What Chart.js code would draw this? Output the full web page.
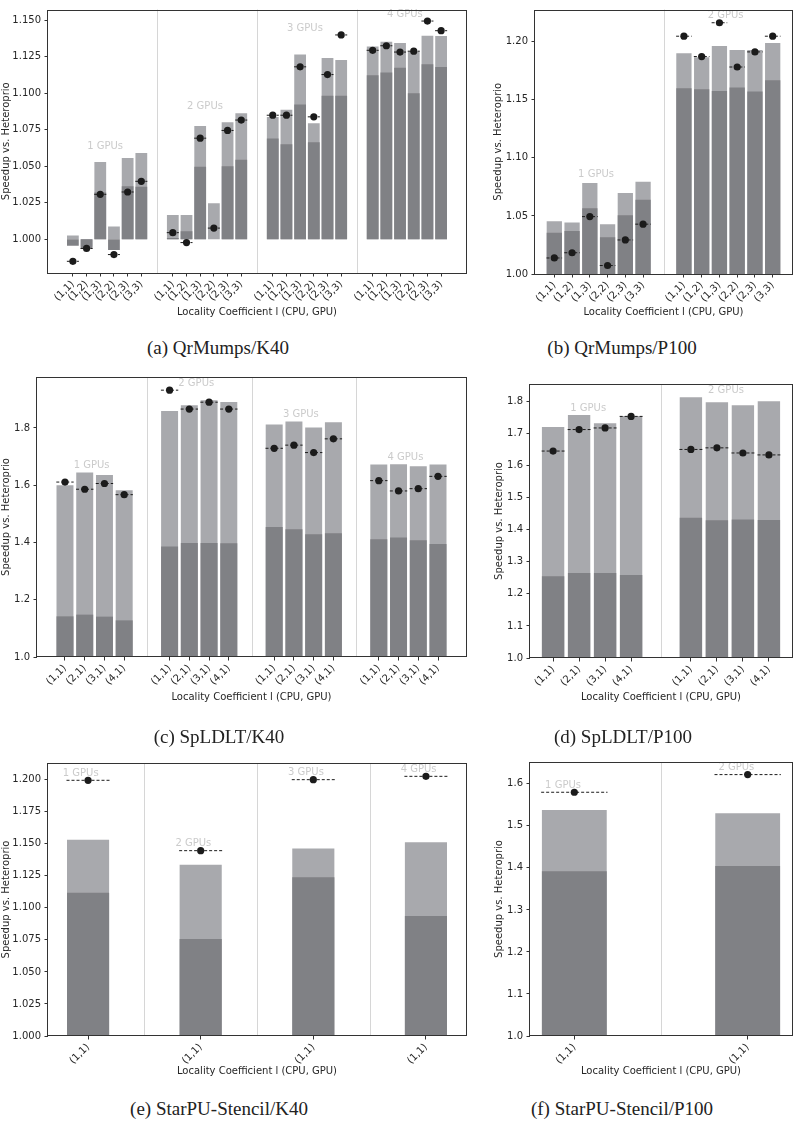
<!DOCTYPE html>
<html>
<head>
<meta charset="utf-8">
<title>Speedup vs. Heteroprio</title>
<script src="https://cdn.jsdelivr.net/npm/chart.js@4.4.1/dist/chart.umd.min.js"></script>
<style>
  html, body { margin: 0; padding: 0; background: #fff; }
  #page { position: relative; width: 796px; height: 1124px; overflow: hidden; background: #fff; }
  #page canvas { position: absolute; }
  .cap { position: absolute; width: 300px; text-align: center; font-family: 'Liberation Serif', serif; font-size: 19px; line-height: 22px; color: #222; }
</style>
</head>
<body>
<div id="page">
  <canvas id="chartA"></canvas>
  <canvas id="chartB"></canvas>
  <canvas id="chartC"></canvas>
  <canvas id="chartD"></canvas>
  <canvas id="chartE"></canvas>
  <canvas id="chartF"></canvas>
  <div class="cap" style="left:68px;top:337px;">(a) QrMumps/K40</div>
  <div class="cap" style="left:472px;top:337px;">(b) QrMumps/P100</div>
  <div class="cap" style="left:69px;top:726px;">(c) SpLDLT/K40</div>
  <div class="cap" style="left:473px;top:726px;">(d) SpLDLT/P100</div>
  <div class="cap" style="left:69px;top:1098px;">(e) StarPU-Stencil/K40</div>
  <div class="cap" style="left:472px;top:1098px;">(f) StarPU-Stencil/P100</div>
</div>
<script>
/* ================================================================
   DATA (light bar, dark bar, marker value)
================================================================ */
const qrTicks = ['(1,1)', '(1,2)', '(1,3)', '(2,2)', '(2,3)', '(3,3)'];
const ldltTicks = ['(1,1)', '(2,1)', '(3,1)', '(4,1)'];
const stencilTicks = ['(1,1)'];

// (a) QrMumps / K40
const qrK40Gpus = ['1 GPUs', '2 GPUs', '3 GPUs', '4 GPUs'];
const qrK40Light = [1.0027, 0.9950, 1.0529, 1.0088, 1.0556, 1.0591,
                    1.0167, 1.0167, 1.0776, 1.0247, 1.0801, 1.0862,
                    1.0836, 1.0887, 1.1264, 1.0794, 1.1240, 1.1226,
                    1.1319, 1.1352, 1.1343, 1.1284, 1.1392, 1.1390];
const qrK40Dark  = [0.9956, 0.9934, 1.0320, 0.9927, 1.0364, 1.0359,
                    1.0010, 1.0055, 1.0496, 1.0000, 1.0500, 1.0545,
                    1.0690, 1.0650, 1.0922, 1.0664, 1.0982, 1.0982,
                    1.1122, 1.1142, 1.1173, 1.0999, 1.1198, 1.1178];
const qrK40Dot   = [0.9850, 0.9938, 1.0308, 0.9896, 1.0324, 1.0397,
                    1.0046, 0.9978, 1.0692, 1.0077, 1.0745, 1.0816,
                    1.0849, 1.0849, 1.1180, 1.0838, 1.1127, 1.1398,
                    1.1293, 1.1324, 1.1281, 1.1287, 1.1493, 1.1427];
const qrK40YTicks = [1.000, 1.025, 1.050, 1.075, 1.100, 1.125, 1.150];

// (b) QrMumps / P100
const qrP100Gpus = ['1 GPUs', '2 GPUs'];
const qrP100Light = [1.0454, 1.0443, 1.0784, 1.0429, 1.0697, 1.0795,
                     1.1900, 1.1867, 1.1963, 1.1929, 1.1929, 1.1988];
const qrP100Dark  = [1.0355, 1.0370, 1.0567, 1.0316, 1.0505, 1.0640,
                     1.1599, 1.1590, 1.1576, 1.1605, 1.1571, 1.1667];
const qrP100Dot   = [1.0138, 1.0183, 1.0494, 1.0073, 1.0293, 1.0429,
                     1.2047, 1.1872, 1.2163, 1.1782, 1.1912, 1.2047];
const qrP100YTicks = [1.00, 1.05, 1.10, 1.15, 1.20];

// (c) SpLDLT / K40
const ldltK40Gpus = ['1 GPUs', '2 GPUs', '3 GPUs', '4 GPUs'];
const ldltK40Light = [1.600, 1.644, 1.636, 1.582, 1.859, 1.879, 1.897, 1.891,
                      1.812, 1.823, 1.802, 1.820, 1.672, 1.673, 1.666, 1.672];
const ldltK40Dark  = [1.142, 1.148, 1.141, 1.128, 1.386, 1.398, 1.398, 1.397,
                      1.454, 1.446, 1.429, 1.432, 1.411, 1.417, 1.408, 1.395];
const ldltK40Dot   = [1.611, 1.586, 1.606, 1.567, 1.932, 1.866, 1.890, 1.866,
                      1.729, 1.740, 1.714, 1.762, 1.616, 1.580, 1.588, 1.631];
const ldltK40YTicks = [1.0, 1.2, 1.4, 1.6, 1.8];

// (d) SpLDLT / P100
const ldltP100Gpus = ['1 GPUs', '2 GPUs'];
const ldltP100Light = [1.720, 1.757, 1.732, 1.754, 1.813, 1.797, 1.788, 1.800];
const ldltP100Dark  = [1.255, 1.265, 1.265, 1.259, 1.437, 1.429, 1.432, 1.430];
const ldltP100Dot   = [1.645, 1.712, 1.717, 1.753, 1.650, 1.655, 1.639, 1.633];
const ldltP100YTicks = [1.0, 1.1, 1.2, 1.3, 1.4, 1.5, 1.6, 1.7, 1.8];

// (e) StarPU-Stencil / K40
const stK40Gpus = ['1 GPUs', '2 GPUs', '3 GPUs', '4 GPUs'];
const stK40Light = [1.1532, 1.1337, 1.1462, 1.1511];
const stK40Dark  = [1.1118, 1.0757, 1.1238, 1.0936];
const stK40Dot   = [1.1995, 1.1446, 1.2000, 1.2026];
const stK40YTicks = [1.000, 1.025, 1.050, 1.075, 1.100, 1.125, 1.150, 1.175, 1.200];

// (f) StarPU-Stencil / P100
const stP100Gpus = ['1 GPUs', '2 GPUs'];
const stP100Light = [1.538, 1.530];
const stP100Dark  = [1.392, 1.4045];
const stP100Dot   = [1.580, 1.622];
const stP100YTicks = [1.0, 1.1, 1.2, 1.3, 1.4, 1.5, 1.6];

/* ================================================================
   STYLE
================================================================ */
const DARK = '#808185';
const LIGHT = '#a8a9ad';
const INK = '#1b1b1b';
const GROUP_GAP = 1.3;     // empty slots between GPU groups
const BAR_W = 0.86;        // bar width in slot units
const DASH_HALF = 0.44;
const LABEL_SHIFT = 0.15;

Chart.defaults.font.family = "'DejaVu Sans', sans-serif";
Chart.defaults.font.size = 10;
Chart.defaults.color = '#262626';

/* separators, GPU labels and the axes frame */
function makeDecor(seps, labels) {
  return {
    id: 'decor',
    beforeDatasetsDraw(chart) {
      const { ctx, chartArea: a, scales: { x } } = chart;
      ctx.save();
      ctx.strokeStyle = '#d6d6d6';
      ctx.lineWidth = 1;
      seps.forEach(v => {
        const px = Math.round(x.getPixelForValue(v)) + 0.5;
        ctx.beginPath();
        ctx.moveTo(px, a.top);
        ctx.lineTo(px, a.bottom);
        ctx.stroke();
      });
      ctx.restore();
    },
    afterDatasetsDraw(chart) {
      const { ctx, scales: { x, y } } = chart;
      ctx.save();
      ctx.fillStyle = '#cbcbcb';
      ctx.font = "10px 'DejaVu Sans', sans-serif";
      ctx.textAlign = 'center';
      ctx.textBaseline = 'middle';
      labels.forEach(l => ctx.fillText(l.text, x.getPixelForValue(l.x), y.getPixelForValue(l.y) - 7));
      ctx.restore();
    },
    afterDraw(chart) {
      const { ctx, chartArea: a } = chart;
      ctx.save();
      ctx.strokeStyle = '#333';
      ctx.lineWidth = 1;
      ctx.strokeRect(Math.round(a.left) - 0.5, Math.round(a.top) + 0.5,
                     Math.round(a.right - a.left) + 1, Math.round(a.bottom - a.top) - 1);
      ctx.restore();
    }
  };
}

function makePanel(id, p) {
  const n = p.ticks.length;
  const period = n + GROUP_GAP;
  const pos = p.light.map((_, k) => Math.floor(k / n) * period + (k % n));
  const lo = -BAR_W / 2, hi = pos[pos.length - 1] + BAR_W / 2;
  const pad = 0.05 * (hi - lo);
  const spacing = n > 1 ? 1 : period;

  const seps = p.gpus.slice(1).map((_, g) => (g * period + n - 1 + (g + 1) * period) / 2);
  const labels = p.gpus.map((text, g) => {
    let top = -Infinity;
    pos.forEach((_, k) => {
      if (Math.floor(k / n) === g) top = Math.max(top, p.light[k], p.dark[k], p.dot[k]);
    });
    return { text, x: g * period + (n - 1) / 2 - LABEL_SHIFT, y: top };
  });

  const box = p.box, plot = p.plot;
  const canvas = document.getElementById(id);
  canvas.width = box.w;
  canvas.height = box.h;
  canvas.style.left = box.left + 'px';
  canvas.style.top = box.top + 'px';

  const barCommon = { type: 'bar', grouped: false, barPercentage: BAR_W / spacing, categoryPercentage: 1, borderWidth: 0 };

  new Chart(canvas, {
    type: 'bar',
    data: {
      datasets: [
        {
          type: 'line', order: 0, showLine: false,
          data: pos.map((x, k) => ({ x, y: p.dot[k] })),
          pointRadius: 3.6, pointBackgroundColor: INK, pointBorderWidth: 0
        },
        {
          type: 'line', order: 1, spanGaps: false,
          data: pos.flatMap((x, k) => [{ x: x - DASH_HALF, y: p.dot[k] }, { x: x + DASH_HALF, y: p.dot[k] }, { x, y: null }]),
          borderColor: INK, borderWidth: 1, borderDash: [3, 2], pointRadius: 0
        },
        { ...barCommon, order: 2, data: pos.map((x, k) => ({ x, y: [1, p.dark[k]] })), backgroundColor: DARK },
        { ...barCommon, order: 3, data: pos.map((x, k) => ({ x, y: [1, p.light[k]] })), backgroundColor: LIGHT }
      ]
    },
    options: {
      responsive: false,
      animation: false,
      events: [],
      layout: { padding: { top: plot.t - box.top, right: box.left + box.w - plot.r, left: 0, bottom: 0 } },
      plugins: { legend: { display: false }, tooltip: { enabled: false } },
      scales: {
        x: {
          type: 'linear', min: lo - pad, max: hi + pad, offset: false,
          grid: { display: true, offset: false, drawOnChartArea: false, drawTicks: true, tickLength: 3.5, color: '#333' },
          border: { display: false },
          ticks: { autoSkip: false, minRotation: 45, maxRotation: 45, padding: 2, callback: (v, i) => p.ticks[i % n] },
          afterBuildTicks: s => { s.ticks = pos.map(v => ({ value: v })); },
          afterFit: s => { s.height = box.top + box.h - plot.b; },
          title: { display: true, text: 'Locality Coefficient l (CPU, GPU)', padding: 0, color: '#262626' }
        },
        y: {
          min: p.yMin, max: p.yMax,
          grid: { display: true, drawOnChartArea: false, drawTicks: true, tickLength: 3.5, color: '#333' },
          border: { display: false },
          ticks: { padding: 3.5, callback: v => v.toFixed(p.yDigits) },
          afterBuildTicks: s => { s.ticks = p.yTicks.map(v => ({ value: v })); },
          afterFit: s => { s.width = plot.l - box.left; },
          title: { display: true, text: 'Speedup vs. Heteroprio', padding: 0, color: '#262626' }
        }
      }
    },
    plugins: [makeDecor(seps, labels)]
  });
}

makePanel('chartA', {
  ticks: qrTicks, gpus: qrK40Gpus, light: qrK40Light, dark: qrK40Dark, dot: qrK40Dot,
  yTicks: qrK40YTicks, yDigits: 3, yMin: 0.977, yMax: 1.1572,
  box: { left: 0, top: 0, w: 470, h: 318 }, plot: { l: 48, t: 1, r: 466, b: 273 }
});
makePanel('chartB', {
  ticks: qrTicks, gpus: qrP100Gpus, light: qrP100Light, dark: qrP100Dark, dot: qrP100Dot,
  yTicks: qrP100YTicks, yDigits: 2, yMin: 1.0, yMax: 1.2277,
  box: { left: 492, top: 0, w: 304, h: 318 }, plot: { l: 535, t: 5, r: 795, b: 274 }
});
makePanel('chartC', {
  ticks: ldltTicks, gpus: ldltK40Gpus, light: ldltK40Light, dark: ldltK40Dark, dot: ldltK40Dot,
  yTicks: ldltK40YTicks, yDigits: 1, yMin: 1.0, yMax: 1.978,
  box: { left: 0, top: 360, w: 470, h: 343 }, plot: { l: 37, t: 377, r: 466, b: 657 }
});
makePanel('chartD', {
  ticks: ldltTicks, gpus: ldltP100Gpus, light: ldltP100Light, dark: ldltP100Dark, dot: ldltP100Dot,
  yTicks: ldltP100YTicks, yDigits: 1, yMin: 1.0, yMax: 1.854,
  box: { left: 493, top: 360, w: 303, h: 343 }, plot: { l: 530, t: 384, r: 794, b: 658 }
});
makePanel('chartE', {
  ticks: stencilTicks, gpus: stK40Gpus, light: stK40Light, dark: stK40Dark, dot: stK40Dot,
  yTicks: stK40YTicks, yDigits: 3, yMin: 1.0, yMax: 1.213,
  box: { left: 0, top: 740, w: 470, h: 337 }, plot: { l: 48, t: 763, r: 466, b: 1036 }
});
makePanel('chartF', {
  ticks: stencilTicks, gpus: stP100Gpus, light: stP100Light, dark: stP100Dark, dot: stP100Dot,
  yTicks: stP100YTicks, yDigits: 1, yMin: 1.0, yMax: 1.652,
  box: { left: 493, top: 740, w: 303, h: 337 }, plot: { l: 530, t: 762, r: 794, b: 1036 }
});
</script>
</body>
</html>
